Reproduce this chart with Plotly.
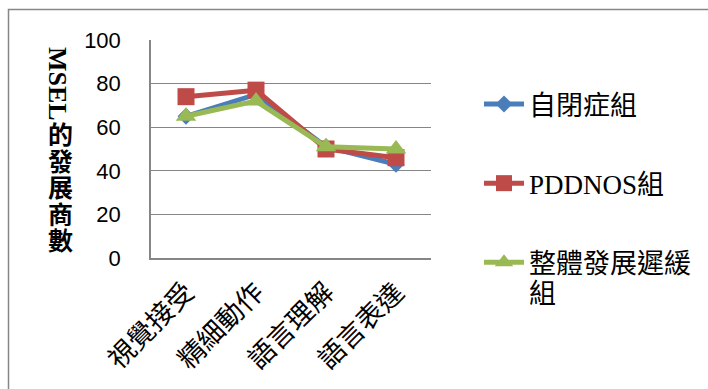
import plotly.graph_objects as go

categories = ["視覺接受", "精細動作", "語言理解", "語言表達"]
autism = [65, 75, 51, 43]
pddnos = [74, 77, 50, 46]
gdd = [65, 72, 51, 50]
series_names = ["自閉症組", "PDDNOS組", "整體發展遲緩"]
legend_tail = "組"
y_ticks = [0, 20, 40, 60, 80, 100]
y_title_latin = "MSEL"
y_title_cjk = ["的", "發", "展", "商", "數"]

colors = ["#4A7EBB", "#BE4B48", "#98B954"]
symbols = ["diamond", "square", "triangle-up"]
sizes = [13, 17, 18]

fig = go.Figure()
for i, (name, vals) in enumerate(zip(series_names, [autism, pddnos, gdd])):
    fig.add_trace(go.Scatter(
        x=categories, y=vals, name=name, mode="lines+markers",
        legendgroup=f"g{i}",
        line=dict(color=colors[i], width=5),
        marker=dict(symbol=symbols[i], size=sizes[i], color=colors[i]),
    ))

font_cjk = "Liberation Serif, Noto Sans CJK TC, sans-serif"
L, T, W, H = 151, 40, 280, 218


def px_x(x):
    return (x - L) / W


def px_y(y):
    return (T + H - y) / H


annotations = [
    dict(
        text="<b>" + y_title_latin + "</b>", textangle=90,
        xref="paper", yref="paper", x=px_x(58), y=px_y(84),
        xanchor="center", yanchor="middle", showarrow=False,
        font=dict(family="Liberation Serif, serif", size=26, color="#000000"),
    ),
    dict(
        text=legend_tail, xref="paper", yref="paper", x=px_x(527), y=px_y(294),
        xanchor="left", yanchor="middle", showarrow=False,
        font=dict(family=font_cjk, size=27, color="#000000"),
    ),
]
for k, ch in enumerate(y_title_cjk):
    annotations.append(dict(
        text="<b>" + ch + "</b>",
        xref="paper", yref="paper", x=px_x(60), y=px_y(133 + 26.5 * k),
        xanchor="center", yanchor="middle", showarrow=False,
        font=dict(family="Noto Sans CJK TC, sans-serif", size=25, color="#000000"),
    ))

fig.update_layout(
    width=708, height=389,
    margin=dict(l=L, r=708 - L - W, t=T, b=389 - T - H),
    paper_bgcolor="white", plot_bgcolor="white",
    showlegend=True,
    legend=dict(
        x=px_x(479), y=px_y(80), xanchor="left", yanchor="top",
        font=dict(family=font_cjk, size=27, color="#000000"),
        tracegroupgap=41,
        itemwidth=40,
        bgcolor="rgba(0,0,0,0)",
    ),
    xaxis=dict(
        type="category",
        tickangle=-45,
        tickfont=dict(family=font_cjk, size=27, color="#000000"),
        ticklabelstandoff=6,
        showline=True, linecolor="#868686", linewidth=1.5,
        showgrid=False, ticks="", range=[-0.5, 3.5],
    ),
    yaxis=dict(
        range=[0, 100], tickvals=y_ticks,
        tickfont=dict(family="Liberation Sans, Arial, sans-serif", size=22, color="#000000"),
        ticklabelstandoff=24,
        showline=True, linecolor="#868686", linewidth=1.5,
        showgrid=True, gridcolor="#868686", gridwidth=1,
        ticks="", zeroline=False,
    ),
    annotations=annotations,
    shapes=[dict(
        type="rect", xref="paper", yref="paper",
        x0=px_x(8.5), x1=2.2, y0=-1.0, y1=px_y(9.5),
        line=dict(color="#868686", width=1.5), fillcolor="rgba(0,0,0,0)", layer="below",
    )],
)

fig.write_html("out.html")
